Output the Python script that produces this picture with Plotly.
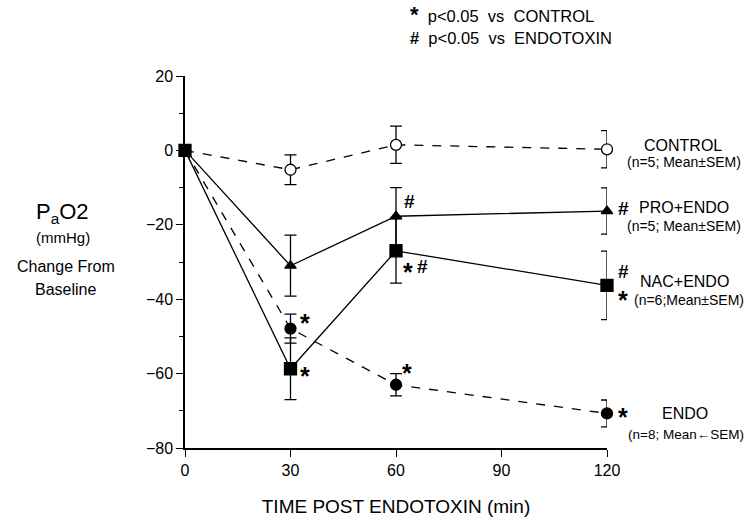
import plotly.graph_objects as go

times = [0, 30, 60, 120]

control_mean = [0, -5.2, 1.5, 0.3]
control_sem = [0, 4.0, 5.0, 5.0]

pro_mean = [0, -31.0, -17.7, -16.3]
pro_sem = [0, 8.2, 7.7, 6.2]

nac_mean = [0, -58.7, -27.0, -36.3]
nac_sem = [0, 8.3, 8.7, 9.2]

endo_mean = [0, -47.9, -63.0, -70.7]
endo_sem = [0, 3.9, 3.0, 3.6]

x_ticks = [0, 30, 60, 90, 120]
y_ticks = [-80, -60, -40, -20, 0, 20]

FONT = "Arial, Liberation Sans, sans-serif"
W, H = 745, 529
L, R, T, B = 185, 138, 76, 81
PW, PH = W - L - R, H - T - B


def px(x):
    return (x - L) / PW


def py(y):
    return (H - B - y) / PH


fig = go.Figure()


def add_series(mean, sem, dash, symbol, size, fill, name):
    fig.add_trace(go.Scatter(
        x=times, y=mean, name=name, mode="lines+markers",
        line=dict(color="black", width=1.3, dash=dash),
        marker=dict(symbol=symbol, size=size, color=fill,
                    line=dict(color="black", width=1.3)),
        error_y=dict(type="data", array=sem, visible=True,
                     color="black", thickness=1.3, width=6),
        showlegend=False, cliponaxis=False,
    ))


add_series(endo_mean, endo_sem, "dash", "circle", 11, "black", "ENDO")
add_series(control_mean, control_sem, "dash", "circle", 11, "white", "CONTROL")
add_series(pro_mean, pro_sem, "solid", "triangle-up", 10, "black", "PRO+ENDO")
add_series(nac_mean, nac_sem, "solid", "square", 12, "black", "NAC+ENDO")

ann = []


def star(x, y, dx, dy):
    # asterisk glyph sits high in its line box; shift it down to centre it
    ann.append(dict(x=x, y=y, xref="x", yref="y", text="<b>*</b>", showarrow=False,
                    xshift=dx, yshift=dy - 6,
                    font=dict(size=25, color="black", family=FONT)))


def hash_(x, y, dx, dy):
    ann.append(dict(x=x, y=y, xref="x", yref="y", text="<b>#</b>", showarrow=False,
                    xshift=dx, yshift=dy,
                    font=dict(size=19, color="black", family=FONT)))


# significance markers
star(30, endo_mean[1], 14, 12)
star(30, nac_mean[1], 14, -1)
hash_(60, pro_mean[2], 13, 15)
star(60, nac_mean[2], 12, -15)
hash_(60, nac_mean[2], 26, -16)
star(60, endo_mean[2], 11, 18)
hash_(120, pro_mean[3], 16, 3)
hash_(120, nac_mean[3], 16, 14)
star(120, nac_mean[3], 16, -9)
star(120, endo_mean[3], 16, 2)


def text_px(x, y, text, size, xanchor="center"):
    ann.append(dict(x=px(x), y=py(y), xref="paper", yref="paper", text=text,
                    showarrow=False, xanchor=xanchor, yanchor="middle",
                    font=dict(size=size, color="black", family=FONT)))


# group labels on right
text_px(683, 145, "CONTROL", 16)
text_px(684, 162, "(n=5; Mean±SEM)", 14)
text_px(684, 207, "PRO+ENDO", 16)
text_px(684, 226, "(n=5; Mean±SEM)", 14)
text_px(684, 281, "NAC+ENDO", 16)
text_px(689, 300, "(n=6;Mean±SEM)", 14)
text_px(685, 413, "ENDO", 16)
text_px(686, 434, "(n=8; Mean←SEM)", 13.5)

# y-axis label block
text_px(62, 213, "P<sub>a</sub>O2", 22)
text_px(63, 238, "(mmHg)", 15)
text_px(66, 266, "Change From", 16)
text_px(66, 289, "Baseline", 16)

# top legend
ann.append(dict(x=px(408), y=py(15), xref="paper", yref="paper", showarrow=False,
                xanchor="left", yanchor="middle",
                text="<b><span style='font-size:22px'>*</span></b>  p&lt;0.05  vs  CONTROL",
                font=dict(size=16.5, color="black", family=FONT)))
text_px(408, 38, "<b>#</b>  p&lt;0.05  vs  ENDOTOXIN", 16.5, "left")

fig.update_layout(
    width=W, height=H,
    margin=dict(l=L, r=R, t=T, b=B, pad=0),
    plot_bgcolor="white", paper_bgcolor="white",
    font=dict(family=FONT, color="black"),
    annotations=ann,
    xaxis=dict(
        range=[0, 120], tickvals=x_ticks, ticktext=[str(v) for v in x_ticks],
        showgrid=False, zeroline=False, showline=True, linecolor="black", linewidth=1.5,
        ticks="outside", ticklen=7, tickwidth=1.3, tickcolor="black",
        tickfont=dict(size=16, family=FONT, color="black"),
        title=dict(text="TIME POST ENDOTOXIN (min)", font=dict(size=19, family=FONT, color="black"), standoff=22),
    ),
    yaxis=dict(
        range=[-80, 20], tickvals=y_ticks,
        showgrid=False, zeroline=False, showline=True, linecolor="black", linewidth=1.5,
        ticks="outside", ticklen=7, tickwidth=1.3, tickcolor="black",
        tickfont=dict(size=16, family=FONT, color="black"),
        minor=dict(dtick=10, tick0=0, ticks="outside", ticklen=4, tickwidth=1.3, tickcolor="black", showgrid=False),
    ),
)

fig.write_html("out.html")
